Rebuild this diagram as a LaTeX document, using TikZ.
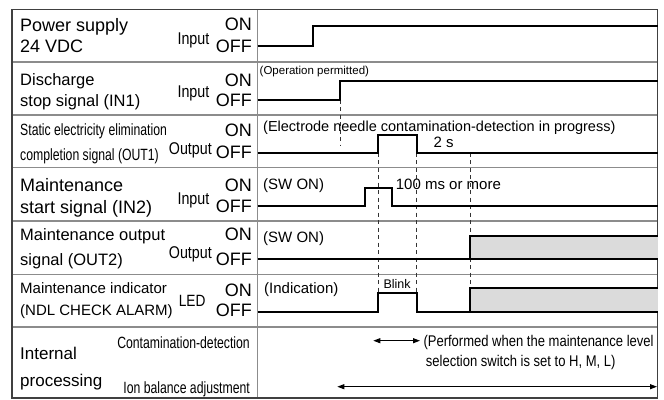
\documentclass[tikz,border=0pt]{standalone}
\usepackage{fontspec}
\setmainfont{Liberation Sans}
\newfontfamily\narrowfont[FakeStretch=0.84]{Liberation Sans}
\newfontfamily\tightfont[FakeStretch=0.75]{Liberation Sans}
\usepackage{tikz}
\usetikzlibrary{arrows.meta, positioning}

\begin{document}
\begin{tikzpicture}[
    x=1pt, y=-1pt,
    % Linhas da tabela
    grid/.style={draw=gray!90, line width=1.2pt},
    frame/.style={draw=black!75, line width=1.3pt},
    % Formas de onda e guias tracejadas
    wave/.style={draw=black, line width=2pt, line join=miter},
    guide/.style={draw=black!80, line width=0.9pt, dash pattern=on 4pt off 3.5pt},
    shade/.style={fill=gray!28},
    % Textos
    signame/.style={anchor=base west, inner sep=0pt},
    lvl/.style={anchor=base east, inner sep=0pt, font=\fontsize{18}{20}\selectfont},
    io/.style={anchor=base east, inner sep=0pt, font=\narrowfont\fontsize{17}{20}\selectfont},
    tight/.style={inner sep=0pt, font=\tightfont\fontsize{16.3}{18}\selectfont},
    note/.style={anchor=base west, inner sep=0pt, font=\fontsize{15}{17}\selectfont},
    small/.style={anchor=base west, inner sep=0pt, font=\narrowfont\fontsize{15.5}{17}\selectfont},
    span/.style={{Triangle[length=7pt,width=5pt]}-{Triangle[length=7pt,width=5pt]}, line width=1pt}
]
\useasboundingbox (0,0) rectangle (664,399);

% 1. Tabela
\foreach \y in {62,115,167.5,221,274.5,327}
    \draw[grid] (12,\y) -- (657.7,\y);
\draw[grid] (257.5,9.5) -- (257.5,398);
\draw[frame] (12,9.5) rectangle (657.7,398);

% 2. Nomes dos sinais
\node[signame, font=\fontsize{18}{20}\selectfont] (ps1) at (20,31.5) {Power supply};
\node[signame, font=\fontsize{18}{20}\selectfont] (ps2) at (20,52.7) {24 VDC};
\node[signame, font=\fontsize{16.5}{18}\selectfont] (in1a) at (20,85) {Discharge};
\node[signame, font=\fontsize{16.5}{18}\selectfont] (in1b) at (20,106) {stop signal (IN1)};
\node[signame, tight] (out1a) at (20,135) {Static electricity elimination};
\node[signame, tight] (out1b) at (20,160) {completion signal (OUT1)};
\node[signame, font=\fontsize{18}{20}\selectfont] (in2a) at (20,191.7) {Maintenance};
\node[signame, font=\fontsize{18}{20}\selectfont] (in2b) at (20,213.3) {start signal (IN2)};
\node[signame, font=\fontsize{16.5}{18}\selectfont] (out2a) at (20,240) {Maintenance output};
\node[signame, font=\fontsize{16.5}{18}\selectfont] (out2b) at (20,265) {signal (OUT2)};
\node[signame, font=\fontsize{15}{17}\selectfont] (leda) at (20,293.3) {Maintenance indicator};
\node[signame, font=\fontsize{15}{17}\selectfont] (ledb) at (20,315.7) {(NDL CHECK ALARM)};
\node[signame, font=\fontsize{17}{19}\selectfont] (proca) at (20,359.3) {Internal};
\node[signame, font=\fontsize{17}{19}\selectfont] (procb) at (20,386.7) {processing};
\node[tight, anchor=base east] (cdet) at (250,348.3) {Contamination-detection};
\node[tight, anchor=base east] (iba) at (250,393.5) {Ion balance adjustment};

% 3. Tipo de sinal e niveis
\node[io] (ps_io) at (209.5,44.3) {Input};
\node[io] (in1_io) at (209.5,97.3) {Input};
\node[io] (out1_io) at (212,154.3) {Output};
\node[io] (in2_io) at (209.5,204) {Input};
\node[io] (out2_io) at (212,258.3) {Output};
\node[io, font=\narrowfont\fontsize{16.3}{18}\selectfont] (led_io) at (205.7,306.7) {LED};
\foreach \n/\yon/\yoff in {ps/30.7/52.3, in1/86/106.7, out1/136.7/158.3, in2/191.7/212.7, out2/240.7/265.7, led/296.7/316.7} {
    \node[lvl] (\n_on) at (252,\yon) {ON};
    \node[lvl] (\n_off) at (252,\yoff) {OFF};
}

% 4. Guias tracejadas
\draw[guide] (340,99.5) -- (340,146);
\draw[guide] (378.3,152.5) -- (378.3,293.3);
\draw[guide] (416.7,152.5) -- (416.7,293.3);
\draw[guide] (470,152.5) -- (470,287.7);

% 5. Formas de onda
\draw[wave] (257.5,45.7) -- (312.7,45.7) -- (312.7,26) -- (657.7,26);
\draw[wave] (257.5,99.5) -- (340,99.5) -- (340,81) -- (657.7,81);
\draw[wave] (257.5,152.5) -- (378.3,152.5) -- (378.3,135) -- (416.7,135) -- (416.7,152.5) -- (657.7,152.5);
\draw[wave] (257.5,205.5) -- (365,205.5) -- (365,187.5) -- (392.3,187.5) -- (392.3,205.5) -- (657.7,205.5);
\fill[shade] (470,236) rectangle (657.7,258.5);
\draw[wave] (257.5,258.5) -- (657.7,258.5);
\draw[wave] (470,258.5) -- (470,236) -- (657.7,236);
\fill[shade] (470,287.7) rectangle (657.7,312);
\draw[wave] (257.5,312) -- (378.3,312) -- (378.3,293.3) -- (416.7,293.3) -- (416.7,312) -- (657.7,312);
\draw[wave] (470,312) -- (470,287.7) -- (657.7,287.7);

% 6. Textos das formas de onda
\node[anchor=base west, inner sep=0pt, font=\fontsize{11.5}{13}\selectfont] (perm) at (259.5,74) {(Operation permitted)};
\node[note, font=\fontsize{14.5}{17}\selectfont] (elec) at (263,131) {(Electrode needle contamination-detection in progress)};
\node[note] (two) at (433.3,147.7) {2 s};
\node[note] (sw1) at (263,189.3) {(SW ON)};
\node[note] (ms) at (395.7,189) {100 ms or more};
\node[note] (sw2) at (263,242.7) {(SW ON)};
\node[note] (ind) at (264,293.3) {(Indication)};
\node[anchor=base west, inner sep=0pt, font=\fontsize{12.5}{14}\selectfont] (blink) at (383.3,288.3) {Blink};
\node[small] (perf1) at (423.3,346) {(Performed when the maintenance level};
\node[small] (perf2) at (425.7,366.7) {selection switch is set to H, M, L)};

% 7. Setas do processamento interno
\coordinate (cd_l) at (373.3,340.7);
\coordinate (cd_r) at (420,340.7);
\coordinate (ib_l) at (337.3,386.7);
\coordinate (ib_r) at (657,386.7);
\draw[span] (cd_l) -- (cd_r);
\draw[span] (ib_l) -- (ib_r);

\end{tikzpicture}
\end{document}
